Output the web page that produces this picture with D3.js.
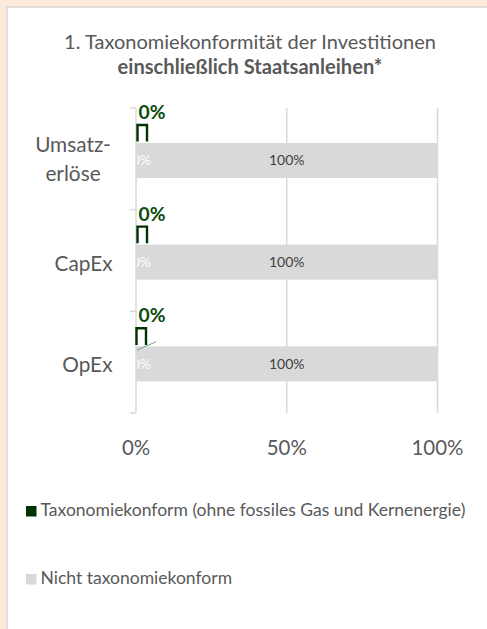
<!DOCTYPE html>
<html><head><meta charset="utf-8">
<script src="https://cdn.jsdelivr.net/npm/d3@7"></script>
<style>html,body{margin:0;padding:0;background:#FCE9D9;}svg{display:block;}</style>
</head><body>
<svg id="c" width="487" height="629"></svg>
<script>
const titleLines = ["1. Taxonomiekonformität der Investitionen", "einschließlich Staatsanleihen*"];
const categories = ["Umsatzerlöse", "CapEx", "OpEx"];
const categoryLabels = [["Umsatz-", "erlöse"], ["CapEx"], ["OpEx"]];
const seriesNames = ["Taxonomiekonform (ohne fossiles Gas und Kernenergie)", "Nicht taxonomiekonform"];
const greenValues = [0, 0, 0];
const grayValues = [100, 100, 100];
const xTicks = [0, 50, 100];
const xTickLabels = ["0%", "50%", "100%"];

const FONT = "Lato, 'Open Sans', sans-serif";
const TXT = "#595959", GREEN = "#003300", GREENTXT = "#0b4a0b", GRAY = "#D9D9D9";
const svg = d3.select("#c");

function fit(sel, w) {
  const l = sel.node().getComputedTextLength();
  const fs = parseFloat(sel.attr("font-size"));
  const n = fs * w / l;
  sel.attr("font-size", n);
  return n;
}

// panel
svg.append("rect").attr("x", 7).attr("y", 7).attr("width", 490).attr("height", 630)
  .attr("fill", "#fff").attr("stroke", "#D6D6D6").attr("stroke-width", 1.5);

// title
const t1 = svg.append("text").attr("x", 250).attr("y", 49).attr("text-anchor", "middle")
  .attr("font-family", FONT).attr("font-size", 18).attr("fill", TXT).text(titleLines[0]);
fit(t1, 372);
const t2 = svg.append("text").attr("x", 250).attr("y", 74).attr("text-anchor", "middle")
  .attr("font-family", FONT).attr("font-size", 18).attr("font-weight", "bold").attr("fill", TXT).text(titleLines[1]);
fit(t2, 265);

const x = d3.scaleLinear().domain([0, 100]).range([136, 437.5]);
const y = d3.scaleBand().domain(categories).range([108, 413]);
const bw = y.bandwidth();

// gridlines
svg.append("g").selectAll("line").data(xTicks.filter(d => d > 0)).join("line")
  .attr("x1", d => x(d)).attr("x2", d => x(d)).attr("y1", 108).attr("y2", 413)
  .attr("stroke", GRAY).attr("stroke-width", 1.5);

// gray bars
const g = svg.append("g");
g.selectAll("rect.gray").data(categories).join("rect").attr("class", "gray")
  .attr("x", x(0)).attr("y", d => y(d) + bw * 0.344)
  .attr("width", (d, i) => x(grayValues[i]) - x(0)).attr("height", bw * 0.344)
  .attr("fill", GRAY);

// green bars (zero width)
g.selectAll("rect.green").data(categories).join("rect").attr("class", "green")
  .attr("x", x(0)).attr("y", d => y(d) + bw * 0.167)
  .attr("width", (d, i) => x(greenValues[i]) - x(0)).attr("height", bw * 0.166)
  .attr("fill", GREEN);

// y axis line + ticks
svg.append("line").attr("x1", x(0)).attr("x2", x(0)).attr("y1", 108).attr("y2", 413)
  .attr("stroke", GRAY).attr("stroke-width", 1.5);
const bounds = categories.map(c => y(c)).concat([413]);
svg.append("g").selectAll("line").data(bounds).join("line")
  .attr("x1", 130).attr("x2", x(0)).attr("y1", d => d).attr("y2", d => d)
  .attr("stroke", GRAY).attr("stroke-width", 1.5);

// white inside labels of green series (clipped)
svg.append("clipPath").attr("id", "clipR").append("rect").attr("x", x(0) + 1).attr("y", 0).attr("width", 400).attr("height", 629);
svg.append("g").attr("clip-path", "url(#clipR)").selectAll("text").data(categories).join("text")
  .attr("x", 151).attr("y", d => y(d) + bw * 0.516 + 5).attr("text-anchor", "end")
  .attr("font-family", FONT).attr("font-size", 14).attr("fill", "#fff")
  .text((d, i) => greenValues[i] + "%");

// 100% labels
svg.append("g").selectAll("text").data(categories).join("text")
  .attr("x", (d, i) => x(grayValues[i] / 2)).attr("y", d => y(d) + bw * 0.516 + 5)
  .attr("text-anchor", "middle").attr("font-family", FONT).attr("font-size", 14).attr("fill", "#404040")
  .text((d, i) => grayValues[i] + "%");

// green callout shapes
svg.append("g").selectAll("path").data(categories).join("path")
  .attr("d", (d, i) => {
    const x0 = x(greenValues[i]) + 1.5 - (i === 2 ? 1 : 0), t = y(d) + bw * 0.167, b = y(d) + bw * 0.33;
    return `M${x0},${b}V${t}H${x0 + 9.5}V${b}`;
  })
  .attr("fill", "none").attr("stroke", GREEN).attr("stroke-width", 2.4);
// leader line on OpEx
svg.append("line").attr("x1", x(0) + 1).attr("y1", y("OpEx") + bw * 0.38)
  .attr("x2", x(0) + 20).attr("y2", y("OpEx") + bw * 0.3)
  .attr("stroke", "#7aa07a").attr("stroke-width", 1);

// green labels
const gl = svg.append("g").selectAll("text").data(categories).join("text")
  .attr("x", x(0) + 2.5).attr("y", d => y(d) + 11)
  .attr("font-family", FONT).attr("font-size", 16).attr("font-weight", "bold").attr("fill", GREENTXT)
  .text((d, i) => greenValues[i] + "%");
const gfs = fit(d3.select(gl.nodes()[0]), 27);
gl.attr("font-size", gfs);

// category labels
const catG = svg.append("g");
const catOffsets = [[-7, 22], [10], [10]];
const catTexts = [];
categories.forEach((c, i) => {
  categoryLabels[i].forEach((line, j) => {
    const t = catG.append("text").attr("x", 73).attr("y", y(c) + bw / 2 + catOffsets[i][j])
      .attr("text-anchor", "middle").attr("font-family", FONT).attr("font-size", 20).attr("fill", TXT).text(line);
    catTexts.push({t, i});
  });
});
const probe = catTexts.find(o => o.t.text() === "CapEx").t;
const cfs = fit(probe, 58);
catTexts.forEach(o => o.t.attr("font-size", cfs));
catTexts.forEach(o => {
  if (o.i > 0) { const w = o.t.node().getComputedTextLength(); o.t.attr("text-anchor", "end").attr("x", 112.5); }
});

// x axis labels
const xl = svg.append("g").selectAll("text").data(xTicks).join("text")
  .attr("x", d => x(d)).attr("y", 455).attr("text-anchor", "middle")
  .attr("font-family", FONT).attr("font-size", 18).attr("fill", TXT)
  .text((d, i) => xTickLabels[i]);
const xfs = fit(d3.select(xl.nodes()[2]), 52);
xl.attr("font-size", xfs);

// legend
const legY = [516, 584];
const legColors = [GREEN, GRAY];
const lg = svg.append("g");
lg.selectAll("rect").data(seriesNames).join("rect")
  .attr("x", 26).attr("y", (d, i) => legY[i] - 10).attr("width", 10.5).attr("height", 10.5)
  .attr("fill", (d, i) => legColors[i]);
const lt = lg.selectAll("text").data(seriesNames).join("text")
  .attr("x", 40.5).attr("y", (d, i) => legY[i])
  .attr("font-family", FONT).attr("font-size", 15).attr("fill", TXT).text(d => d);
const lfs = fit(d3.select(lt.nodes()[0]), 425);
lt.attr("font-size", lfs);
</script>
</body></html>
